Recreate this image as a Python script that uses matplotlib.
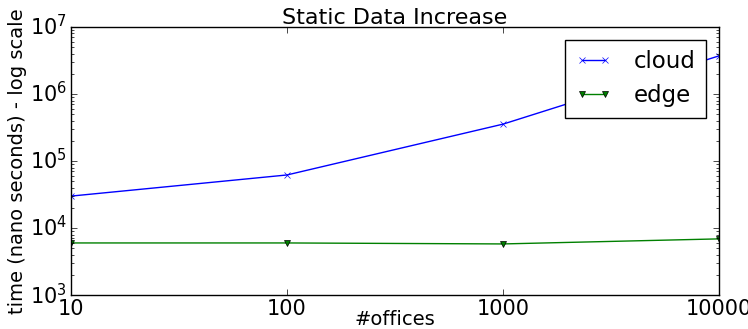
import matplotlib
matplotlib.use("Agg")
import matplotlib.pyplot as plt

plt.style.use('classic')

# data
offices = ['10', '100', '1000', '10000']
cloud = [30000, 62000, 355000, 3.7e6]
edge = [6000, 6000, 5800, 6900]

fig = plt.figure(figsize=(7.48, 3.29), dpi=100)
ax = fig.add_axes([0.095, 0.103, 0.866, 0.815])

pos = list(range(len(offices)))
ax.plot(pos, cloud, 'bx-', ms=4, label='cloud')
ax.plot(pos, edge, 'gv-', ms=4, label='edge')

ax.set_yscale('log')
ax.set_ylim(1e3, 1e7)
ax.set_xlim(pos[0], pos[-1])
ax.set_xticks(pos)
ax.set_xticklabels(offices)
ax.tick_params(labelsize=15, pad=3)

ax.set_title('Static Data Increase', fontsize=16, pad=2)
ax.set_xlabel('#offices', fontsize=14, labelpad=-7)
ax.set_ylabel('time (nano seconds) - log scale', fontsize=14, labelpad=2)
ax.legend(loc='upper right', fontsize=16.5, handlelength=1.6,
          handletextpad=0.95, borderaxespad=0.55, borderpad=0.45)

fig.savefig('out.png', dpi=100)
